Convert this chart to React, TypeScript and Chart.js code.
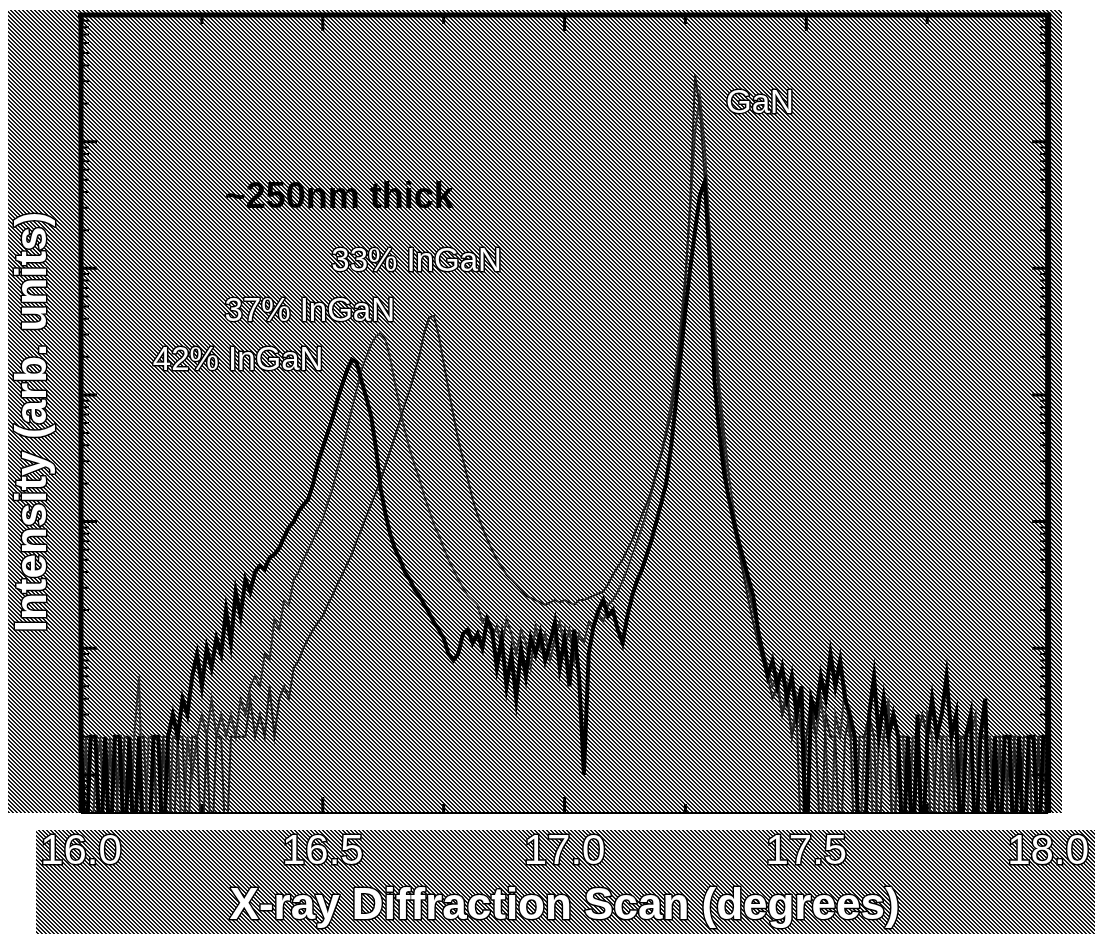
import React, { useEffect, useRef } from "react";
import { Chart, registerables } from "chart.js";

Chart.register(...registerables);

// Scan grid: 16.00° to 18.00° in 0.01° steps
const SCAN_START = 16.0;
const SCAN_STEP = 0.01;
const SCAN_POINTS = 201;
const angles: number[] = Array.from({ length: SCAN_POINTS }, (_, i) =>
  Math.round((SCAN_START + i * SCAN_STEP) * 100) / 100
);

// Counts (arb. units) for each sample
const inGaN42: number[] = [
  2, 0, 2, 2, 0, 2, 0, 2, 2, 0,
  2, 0, 2, 0, 0, 2, 2, 0, 2, 3,
  2, 4, 3, 6, 9, 5, 10, 7, 12, 9,
  20, 11, 28, 18, 35, 28, 40, 45, 42, 52,
  55, 62, 75, 90, 100, 120, 135, 150, 200, 290,
  380, 500, 650, 900, 1200, 1550, 1900, 1800, 1300, 950,
  680, 380, 180, 113, 78, 60, 50, 40, 35, 29,
  26, 22, 19, 16, 14, 12, 9, 8, 9, 13,
  14, 11, 13, 10, 17, 14, 7, 12, 5, 9,
  4, 10, 6, 12, 9, 13, 8, 11, 16, 7,
  12, 5, 14, 6, 1, 9, 15, 20, 24, 18,
  20, 14, 11, 18, 26, 34, 42, 55, 72, 100,
  140, 200, 380, 850, 2000, 4700, 10000, 20000, 38000, 48000,
  12000, 1300, 500, 240, 150, 100, 70, 50, 36, 26,
  14, 9, 6, 8, 5, 7, 4, 6, 3, 5,
  0, 4, 3, 6, 4, 9, 5, 8, 4, 3,
  2, 0, 0, 3, 6, 2, 4, 2, 3, 2,
  0, 2, 0, 3, 0, 2, 4, 2, 3, 6,
  2, 3, 0, 2, 3, 0, 2, 4, 0, 2,
  0, 2, 2, 0, 2, 0, 2, 2, 0, 2, 2,
];

const inGaN37: number[] = [
  0, 2, 0, 1, 2, 0, 2, 0, 2, 1,
  0, 2, 6, 0, 2, 2, 0, 2, 0, 2,
  2, 0, 2, 1, 2, 3, 2, 4, 2, 3,
  2, 3, 2, 4, 3, 5, 6, 5, 9, 8,
  17, 14, 24, 22, 35, 40, 50, 60, 72, 88,
  104, 140, 180, 260, 368, 520, 770, 1100, 1580, 2000,
  2500, 2900, 3100, 2700, 1900, 1200, 770, 520, 368, 280,
  215, 160, 123, 95, 78, 62, 50, 42, 35, 30,
  26, 24, 22, 16, 18, 12, 15, 10, 17, 13,
  9, 14, 11, 7, 15, 10, 13, 8, 12, 16,
  10, 14, 8, 13, 11, 16, 14, 19, 16, 22,
  24, 28, 34, 42, 55, 70, 90, 120, 170, 240,
  350, 520, 850, 1600, 3500, 9000, 30000, 120000, 230000, 90000,
  20000, 4000, 1200, 500, 230, 120, 70, 45, 30, 20,
  14, 10, 7, 5, 6, 3, 5, 2, 4, 2,
  0, 3, 2, 4, 2, 0, 3, 2, 5, 2,
  2, 0, 2, 3, 0, 2, 2, 4, 0, 2,
  2, 0, 2, 2, 0, 3, 2, 0, 2, 2,
  0, 2, 2, 0, 2, 3, 0, 2, 2, 0,
  2, 2, 0, 2, 2, 0, 2, 0, 2, 2, 0,
];

const inGaN33: number[] = [
  2, 0, 2, 2, 0, 2, 0, 2, 0, 2,
  2, 0, 2, 2, 0, 2, 0, 2, 2, 0,
  2, 2, 0, 2, 2, 0, 2, 0, 2, 2,
  0, 2, 2, 2, 2, 4, 2, 3, 2, 5,
  2, 4, 5, 4, 7, 8, 10, 12, 14, 16,
  18, 22, 26, 32, 38, 46, 55, 70, 87, 110,
  137, 170, 215, 280, 368, 480, 635, 850, 1100, 1500,
  2070, 3100, 4100, 4200, 2900, 1800, 1100, 700, 445, 310,
  215, 150, 113, 90, 72, 60, 50, 44, 38, 35,
  32, 29, 26, 25, 24, 23, 22, 23, 24, 23,
  24, 23, 22, 24, 24, 25, 26, 27, 28, 32,
  38, 44, 50, 60, 72, 90, 113, 140, 180, 250,
  335, 480, 700, 1300, 2700, 8000, 34700, 336000, 178000, 49800,
  11600, 2720, 914, 350, 148, 90, 60, 38, 24, 16,
  11, 8, 6, 4, 5, 3, 4, 2, 3, 0,
  2, 4, 2, 0, 3, 2, 2, 0, 2, 3,
  0, 2, 2, 3, 2, 0, 2, 2, 0, 2,
  2, 2, 0, 2, 3, 2, 0, 2, 2, 0,
  2, 0, 2, 2, 3, 0, 2, 2, 0, 2,
  2, 0, 2, 2, 0, 2, 2, 0, 2, 0, 2,
];

// Axis ticks
const xTickLabels: number[] = [16.0, 16.5, 17.0, 17.5, 18.0];
const xMinorTicks: number[] = [16.25, 16.75, 17.25, 17.75];
const yDecades: number[] = [1, 10, 100, 1000, 10000, 100000];
const yMantissas: number[] = [2, 3, 4, 5, 6, 7, 8, 9];
const yBelowOne: number[] = [0.6, 0.7, 0.8, 0.9];

const Y_MIN = 0.5;
const Y_MAX = 1e6;
// zero counts cannot sit on a log axis; they are drawn below the bottom edge
const ZERO_FLOOR = 0.2;

const FONT = "'Liberation Sans', Arial, sans-serif";

// Text labels placed in data coordinates
const notes = [
  { text: "~250nm thick", x: 16.534, y: 36000, font: `bold 36px ${FONT}`, fill: "#000", stroke: null as string | null },
  { text: "33% InGaN", x: 16.694, y: 11200, font: `33px ${FONT}`, fill: "#fff", stroke: "#000" },
  { text: "37% InGaN", x: 16.473, y: 4520, font: `33px ${FONT}`, fill: "#fff", stroke: "#000" },
  { text: "42% InGaN", x: 16.325, y: 1850, font: `33px ${FONT}`, fill: "#fff", stroke: "#000" },
  { text: "GaN", x: 17.404, y: 198000, font: `33px ${FONT}`, fill: "#fff", stroke: "#000" },
];

function halftone(ctx: CanvasRenderingContext2D): CanvasPattern | string {
  const tile = document.createElement("canvas");
  tile.width = 4;
  tile.height = 4;
  const g = tile.getContext("2d");
  if (!g) return "#888";
  g.fillStyle = "#f4f4f4";
  g.fillRect(0, 0, 4, 4);
  g.fillStyle = "#161616";
  for (let r = 0; r < 4; r++) {
    g.fillRect(r % 4, r, 1, 1);
    g.fillRect((r + 1) % 4, r, 1, 1);
  }
  return ctx.createPattern(tile, "repeat") || "#888";
}

function outlinedText(
  ctx: CanvasRenderingContext2D,
  text: string,
  x: number,
  y: number,
  font: string,
  fill: string,
  stroke: string | null,
  lw = 3
) {
  ctx.font = font;
  ctx.textAlign = "center";
  ctx.textBaseline = "middle";
  if (stroke) {
    ctx.lineJoin = "round";
    ctx.lineWidth = lw;
    ctx.strokeStyle = stroke;
    ctx.strokeText(text, x, y);
  }
  ctx.fillStyle = fill;
  ctx.fillText(text, x, y);
}

const backdrop = {
  id: "backdrop",
  beforeDraw(chart: any) {
    const { ctx, width, height } = chart;
    ctx.save();
    ctx.fillStyle = "#fff";
    ctx.fillRect(0, 0, width, height);
    const pat = halftone(ctx);
    ctx.fillStyle = pat;
    ctx.fillRect(8, 10, 1054, 803);
    ctx.fillRect(36, 830, width - 36, height - 830);
    ctx.restore();
  },
};

const frameAndText = {
  id: "frameAndText",
  afterDraw(chart: any) {
    const { ctx, chartArea } = chart;
    const xs = chart.scales.x;
    const ys = chart.scales.y;
    const { left, right, top, bottom } = chartArea;
    ctx.save();

    // frame
    ctx.strokeStyle = "#000";
    ctx.lineCap = "butt";
    ctx.lineWidth = 5;
    ctx.beginPath();
    ctx.moveTo(left - 3, top);
    ctx.lineTo(right + 3, top);
    ctx.stroke();
    ctx.beginPath();
    ctx.moveTo(left, top);
    ctx.lineTo(left, bottom);
    ctx.stroke();
    ctx.lineWidth = 6;
    ctx.beginPath();
    ctx.moveTo(right, top);
    ctx.lineTo(right, bottom);
    ctx.stroke();
    ctx.lineWidth = 2;
    ctx.beginPath();
    ctx.moveTo(left, bottom);
    ctx.lineTo(right, bottom);
    ctx.stroke();

    // x ticks, top and bottom, pointing inward
    ctx.lineWidth = 3;
    const xTick = (v: number, len: number) => {
      const px = xs.getPixelForValue(v);
      ctx.beginPath();
      ctx.moveTo(px, top);
      ctx.lineTo(px, top + len);
      ctx.moveTo(px, bottom);
      ctx.lineTo(px, bottom - len);
      ctx.stroke();
    };
    xTickLabels.forEach((v) => xTick(v, 16));
    xMinorTicks.forEach((v) => xTick(v, 9));

    // y ticks, left and right, pointing inward
    const yTick = (v: number, len: number, w: number) => {
      const py = ys.getPixelForValue(v);
      ctx.lineWidth = w;
      ctx.beginPath();
      ctx.moveTo(left, py);
      ctx.lineTo(left + len, py);
      ctx.moveTo(right, py);
      ctx.lineTo(right - len, py);
      ctx.stroke();
    };
    yDecades.forEach((d) => {
      yTick(d, 16, 3);
      yMantissas.forEach((m) => yTick(d * m, 8, 2));
    });
    yBelowOne.forEach((v) => yTick(v, 8, 2));

    // notes inside the plot
    notes.forEach((n) => {
      outlinedText(ctx, n.text, xs.getPixelForValue(n.x), ys.getPixelForValue(n.y), n.font, n.fill, n.stroke, 3);
    });

    // axis titles
    outlinedText(
      ctx,
      "X-ray Diffraction Scan (degrees)",
      (left + right) / 2,
      907,
      `bold 44px ${FONT}`,
      "#fff",
      "#000",
      3
    );
    ctx.save();
    ctx.translate(34, (top + bottom) / 2 + 8);
    ctx.rotate(-Math.PI / 2);
    outlinedText(ctx, "Intensity (arb. units)", 0, 0, `bold 44px ${FONT}`, "#fff", "#000", 3);
    ctx.restore();

    ctx.restore();
  },
};

export default function App() {
  const ref = useRef<HTMLCanvasElement | null>(null);

  useEffect(() => {
    if (!ref.current) return;
    const toPoints = (vals: number[]) =>
      angles.map((a, i) => ({ x: a, y: vals[i] > 0 ? vals[i] : ZERO_FLOOR }));
    const chart = new Chart(ref.current, {
      type: "line",
      data: {
        datasets: [
          {
            label: "42% InGaN",
            data: toPoints(inGaN42),
            borderColor: "#000",
            borderWidth: 4,
            pointRadius: 0,
            tension: 0,
            order: 0,
          },
          {
            label: "37% InGaN",
            data: toPoints(inGaN37),
            borderColor: "#2e2e2e",
            borderWidth: 2,
            pointRadius: 0,
            tension: 0,
            order: 2,
          },
          {
            label: "33% InGaN",
            data: toPoints(inGaN33),
            borderColor: "#1e1e1e",
            borderWidth: 2,
            pointRadius: 0,
            tension: 0,
            order: 1,
          },
        ],
      },
      options: {
        responsive: false,
        animation: false,
        events: [],
        layout: { autoPadding: false, padding: { left: 0, top: 15, right: 37, bottom: 0 } },
        plugins: {
          legend: { display: false },
          tooltip: { enabled: false },
          title: { display: false },
        },
        scales: {
          x: {
            type: "linear",
            min: 16,
            max: 18,
            grid: { display: false },
            border: { display: false },
            afterFit: (s: any) => {
              s.height = 121;
            },
            ticks: {
              stepSize: 0.5,
              autoSkip: false,
              maxRotation: 0,
              padding: 6,
              color: "#fff",
              textStrokeColor: "#000",
              textStrokeWidth: 3,
              font: { family: FONT, size: 42 },
              callback: (v: any) => Number(v).toFixed(1),
            },
          },
          y: {
            type: "logarithmic",
            min: Y_MIN,
            max: Y_MAX,
            grid: { display: false },
            border: { display: false },
            ticks: { display: false },
            afterFit: (s: any) => {
              s.width = 81;
            },
          },
        },
      },
      plugins: [backdrop, frameAndText],
    });
    return () => chart.destroy();
  }, []);

  return (
    <div style={{ position: "fixed", left: 0, top: 0, width: 1095, height: 934 }}>
      <canvas ref={ref} width={1095} height={934} style={{ display: "block" }} />
    </div>
  );
}
